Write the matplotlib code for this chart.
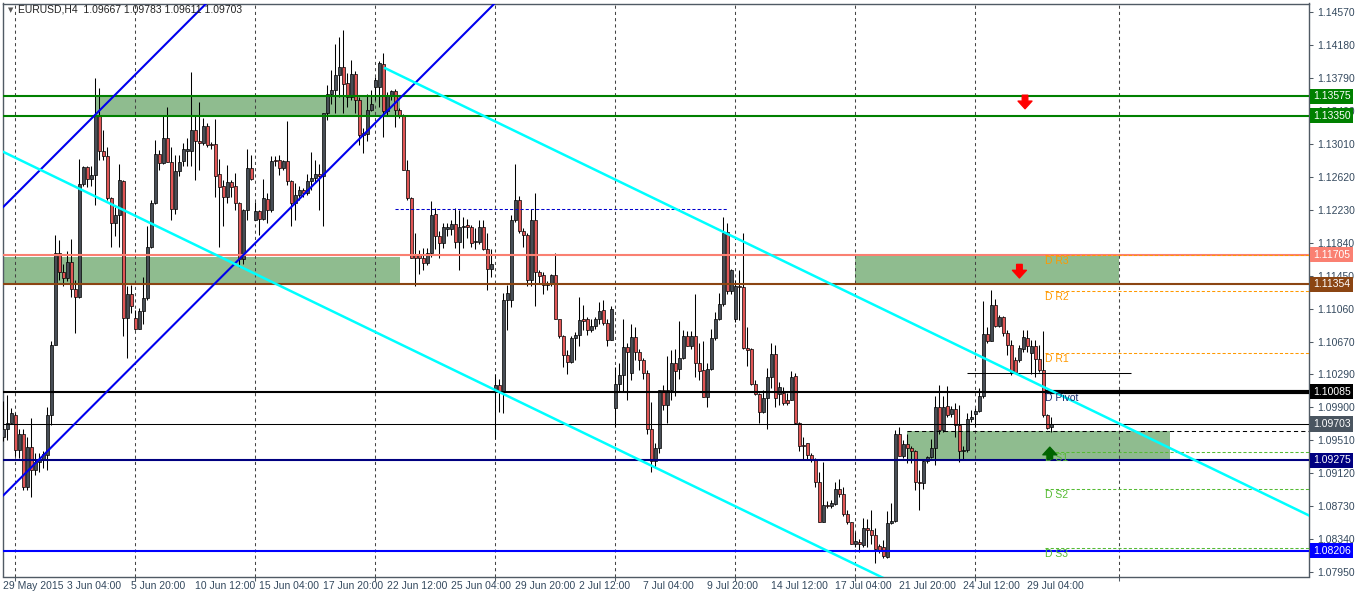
import numpy as np
import matplotlib
matplotlib.use("Agg")
import matplotlib.pyplot as plt
from matplotlib.patches import Rectangle

plt.rcParams['font.family'] = ['Liberation Sans', 'DejaVu Sans']

# EURUSD H4 candles, 29 May 2015 12:00 .. 30 Jul 2015 04:00
opens = [
    1.0955, 1.0965, 1.0972, 1.0981, 1.0940, 1.0959, 1.0896, 1.0943, 1.0916, 1.0926,
    1.0928, 1.0934, 1.0981, 1.1064, 1.1173, 1.1150, 1.1143, 1.1162, 1.1130, 1.1120,
    1.1254, 1.1274, 1.1260, 1.1265, 1.1336, 1.1293, 1.1287, 1.1237, 1.1208, 1.1217,
    1.1258, 1.1096, 1.1124, 1.1096, 1.1083, 1.1104, 1.1119, 1.1180, 1.1231, 1.1290,
    1.1279, 1.1309, 1.1280, 1.1225, 1.1269, 1.1281, 1.1293, 1.1293, 1.1318, 1.1305,
    1.1302, 1.1323, 1.1301, 1.1301, 1.1266, 1.1252, 1.1239, 1.1256, 1.1252, 1.1231,
    1.1165, 1.1223, 1.1273, 1.1212, 1.1222, 1.1213, 1.1236, 1.1223, 1.1283, 1.1282,
    1.1273, 1.1281, 1.1257, 1.1231, 1.1241, 1.1247, 1.1243, 1.1257, 1.1261, 1.1266,
    1.1263, 1.1338, 1.1361, 1.1365, 1.1383, 1.1392, 1.1373, 1.1357, 1.1384, 1.1353,
    1.1314, 1.1313, 1.1341, 1.1369, 1.1369, 1.1396, 1.1340, 1.1358, 1.1364, 1.1341,
    1.1336, 1.1271, 1.1237, 1.1171, 1.1171, 1.1167, 1.1161, 1.1172, 1.1218, 1.1192,
    1.1184, 1.1201, 1.1201, 1.1207, 1.1186, 1.1203, 1.1205, 1.1203, 1.1185, 1.1186,
    1.1203, 1.1177, 1.1154, 1.1011, 1.1016, 1.1009, 1.1117, 1.1117, 1.1212, 1.1235,
    1.1199, 1.1194, 1.1140, 1.1212, 1.1150, 1.1146, 1.1135, 1.1137, 1.1146, 1.1094,
    1.1074, 1.1052, 1.1044, 1.1072, 1.1075, 1.1094, 1.1094, 1.1082, 1.1086, 1.1094,
    1.1105, 1.1090, 1.1070, 1.0989, 1.1018, 1.1028, 1.1061, 1.1031, 1.1073, 1.1056,
    1.1046, 1.1031, 1.0965, 1.0927, 1.0942, 1.1011, 1.0993, 1.1010, 1.1042, 1.1035,
    1.1048, 1.1074, 1.1063, 1.1074, 1.1042, 1.1034, 1.1002, 1.1035, 1.1072, 1.1095,
    1.1112, 1.1197, 1.1127, 1.1095, 1.1133, 1.1132, 1.1060, 1.1059, 1.1018, 1.1006,
    1.0985, 1.1001, 1.1026, 1.1053, 1.1006, 1.1007, 1.0999, 1.0999, 1.1027, 1.0971,
    1.0946, 1.0948, 1.0934, 1.0929, 1.0902, 1.0855, 1.0875, 1.0873, 1.0876, 1.0893,
    1.0888, 1.0864, 1.0854, 1.0829, 1.0831, 1.0827, 1.0847, 1.0845, 1.0839, 1.0826,
    1.0825, 1.0813, 1.0853, 1.0856, 1.0959, 1.0933, 1.0947, 1.0942, 1.0939, 1.0902,
    1.0901, 1.0927, 1.0931, 1.0942, 1.0991, 1.0963, 1.0992, 1.0982, 1.0988, 1.0969,
    1.0938, 1.0940, 1.0976, 1.0982, 1.0986, 1.1003, 1.1077, 1.1069, 1.1111, 1.1086,
    1.1097, 1.1078, 1.1064, 1.1046, 1.1046, 1.1059, 1.1072, 1.1054, 1.1063, 1.1047,
    1.1034, 1.0981, 1.09667,
]
highs = [
    1.0997, 1.1005, 1.0989, 1.0983, 1.0964, 1.0964, 1.0955, 1.0977, 1.0936, 1.0936,
    1.0938, 1.0991, 1.1068, 1.1194, 1.1188, 1.1160, 1.1175, 1.1189, 1.1141, 1.1284,
    1.1275, 1.1275, 1.1275, 1.1379, 1.1367, 1.1318, 1.1298, 1.1239, 1.1227, 1.1278,
    1.1259, 1.1133, 1.1135, 1.1105, 1.1107, 1.1144, 1.1204, 1.1235, 1.1306, 1.1294,
    1.1336, 1.1345, 1.1298, 1.1288, 1.1288, 1.1302, 1.1308, 1.1386, 1.1334, 1.1351,
    1.1332, 1.1326, 1.1304, 1.1331, 1.1284, 1.1259, 1.1276, 1.1259, 1.1267, 1.1233,
    1.1224, 1.1296, 1.1288, 1.1233, 1.1223, 1.1260, 1.1243, 1.1287, 1.1287, 1.1288,
    1.1283, 1.1329, 1.1259, 1.1255, 1.1252, 1.1249, 1.1266, 1.1292, 1.1283, 1.1278,
    1.1338, 1.1371, 1.1389, 1.1420, 1.1428, 1.1436, 1.1385, 1.1401, 1.1388, 1.1357,
    1.1320, 1.1360, 1.1365, 1.1381, 1.1399, 1.1409, 1.1363, 1.1365, 1.1366, 1.1344,
    1.1337, 1.1282, 1.1239, 1.1196, 1.1176, 1.1178, 1.1178, 1.1234, 1.1226, 1.1198,
    1.1208, 1.1208, 1.1211, 1.1226, 1.1223, 1.1215, 1.1213, 1.1206, 1.1202, 1.1211,
    1.1211, 1.1196, 1.1177, 1.1030, 1.1024, 1.1125, 1.1135, 1.1217, 1.1278, 1.1240,
    1.1202, 1.1196, 1.1224, 1.1243, 1.1152, 1.1150, 1.1139, 1.1148, 1.1172, 1.1095,
    1.1075, 1.1058, 1.1074, 1.1079, 1.1121, 1.1111, 1.1097, 1.1095, 1.1097, 1.1115,
    1.1117, 1.1095, 1.1110, 1.1038, 1.1042, 1.1094, 1.1066, 1.1089, 1.1085, 1.1059,
    1.1048, 1.1034, 1.0996, 1.0948, 1.1011, 1.1016, 1.1051, 1.1058, 1.1059, 1.1092,
    1.1081, 1.1080, 1.1080, 1.1124, 1.1066, 1.1068, 1.1043, 1.1083, 1.1103, 1.1125,
    1.1215, 1.1208, 1.1154, 1.1141, 1.1152, 1.1196, 1.1085, 1.1060, 1.1022, 1.1007,
    1.1011, 1.1036, 1.1066, 1.1064, 1.1020, 1.1014, 1.1007, 1.1033, 1.1031, 1.0973,
    1.0955, 1.0948, 1.0936, 1.0930, 1.0914, 1.0926, 1.0879, 1.0881, 1.0902, 1.0905,
    1.0896, 1.0869, 1.0855, 1.0843, 1.0835, 1.0859, 1.0858, 1.0869, 1.0847, 1.0829,
    1.0833, 1.0867, 1.0877, 1.0963, 1.0967, 1.0951, 1.0959, 1.0944, 1.0940, 1.0916,
    1.0929, 1.0933, 1.0953, 1.1004, 1.1017, 1.1004, 1.1015, 1.0992, 1.0995, 1.0993,
    1.0944, 1.0983, 1.0987, 1.0989, 1.1013, 1.1116, 1.1085, 1.1129, 1.1118, 1.1099,
    1.1098, 1.1082, 1.1070, 1.1050, 1.1064, 1.1082, 1.1082, 1.1070, 1.1070, 1.1064,
    1.1080, 1.0982, 1.09783,
]
lows = [
    1.0950, 1.0951, 1.0971, 1.0932, 1.0930, 1.0892, 1.0892, 1.0884, 1.0910, 1.0914,
    1.0918, 1.0916, 1.0969, 1.1064, 1.1141, 1.1133, 1.1139, 1.1121, 1.1078, 1.1119,
    1.1252, 1.1251, 1.1252, 1.1229, 1.1282, 1.1282, 1.1235, 1.1180, 1.1192, 1.1180,
    1.1074, 1.1048, 1.1101, 1.1081, 1.1083, 1.1089, 1.1117, 1.1178, 1.1230, 1.1271,
    1.1278, 1.1280, 1.1212, 1.1219, 1.1263, 1.1275, 1.1275, 1.1275, 1.1259, 1.1271,
    1.1300, 1.1298, 1.1296, 1.1239, 1.1180, 1.1204, 1.1231, 1.1239, 1.1223, 1.1156,
    1.1160, 1.1212, 1.1259, 1.1212, 1.1194, 1.1212, 1.1208, 1.1221, 1.1275, 1.1265,
    1.1271, 1.1253, 1.1204, 1.1212, 1.1235, 1.1239, 1.1241, 1.1247, 1.1255, 1.1223,
    1.1204, 1.1330, 1.1349, 1.1338, 1.1357, 1.1338, 1.1345, 1.1353, 1.1338, 1.1300,
    1.1291, 1.1305, 1.1340, 1.1353, 1.1345, 1.1310, 1.1334, 1.1353, 1.1321, 1.1332,
    1.1271, 1.1235, 1.1166, 1.1133, 1.1148, 1.1152, 1.1158, 1.1168, 1.1177, 1.1167,
    1.1178, 1.1192, 1.1194, 1.1178, 1.1152, 1.1178, 1.1190, 1.1180, 1.1177, 1.1183,
    1.1176, 1.1129, 1.1144, 1.0953, 1.0985, 1.0983, 1.1081, 1.1109, 1.1209, 1.1196,
    1.1180, 1.1133, 1.1133, 1.1110, 1.1137, 1.1124, 1.1129, 1.1133, 1.1094, 1.1072,
    1.1038, 1.1030, 1.1042, 1.1046, 1.1062, 1.1081, 1.1075, 1.1079, 1.1083, 1.1089,
    1.1087, 1.1063, 1.1070, 1.0967, 1.1009, 1.1009, 1.0999, 1.1022, 1.1046, 1.1034,
    1.1023, 1.0959, 1.0914, 1.0918, 1.0936, 1.0987, 1.0972, 1.0999, 1.1003, 1.1023,
    1.1047, 1.1062, 1.1059, 1.1026, 1.1022, 1.1002, 1.0990, 1.1034, 1.1070, 1.1093,
    1.1110, 1.1124, 1.1124, 1.1091, 1.1093, 1.1059, 1.1039, 1.1016, 1.1005, 1.0972,
    1.0983, 1.0964, 1.1013, 1.0991, 1.0993, 1.0993, 1.0993, 1.0999, 1.0970, 1.0939,
    1.0928, 1.0928, 1.0926, 1.0896, 1.0854, 1.0854, 1.0871, 1.0871, 1.0875, 1.0884,
    1.0862, 1.0852, 1.0829, 1.0825, 1.0819, 1.0825, 1.0825, 1.0829, 1.0806, 1.0818,
    1.0812, 1.0812, 1.0852, 1.0855, 1.0932, 1.0930, 1.0924, 1.0924, 1.0892, 1.0869,
    1.0894, 1.0924, 1.0930, 1.0922, 1.0959, 1.0961, 1.0979, 1.0979, 1.0955, 1.0925,
    1.0929, 1.0937, 1.0973, 1.0967, 1.0985, 1.1001, 1.1066, 1.1068, 1.1085, 1.1085,
    1.1074, 1.1052, 1.1028, 1.1031, 1.1044, 1.1056, 1.1056, 1.1030, 1.1026, 1.1032,
    1.0979, 1.0965, 1.09611,
]
closes = [
    1.0965, 1.0972, 1.0983, 1.0940, 1.0959, 1.0896, 1.0943, 1.0916, 1.0925, 1.0929,
    1.0935, 1.0981, 1.1064, 1.1173, 1.1150, 1.1143, 1.1162, 1.1130, 1.1120, 1.1254,
    1.1274, 1.1260, 1.1265, 1.1336, 1.1293, 1.1287, 1.1237, 1.1208, 1.1217, 1.1259,
    1.1096, 1.1124, 1.1110, 1.1083, 1.1104, 1.1119, 1.1180, 1.1231, 1.1290, 1.1279,
    1.1309, 1.1280, 1.1225, 1.1269, 1.1280, 1.1296, 1.1296, 1.1318, 1.1305, 1.1302,
    1.1323, 1.1300, 1.1300, 1.1264, 1.1251, 1.1239, 1.1256, 1.1251, 1.1231, 1.1165,
    1.1223, 1.1273, 1.1260, 1.1222, 1.1213, 1.1237, 1.1223, 1.1281, 1.1281, 1.1273,
    1.1281, 1.1257, 1.1231, 1.1241, 1.1247, 1.1243, 1.1258, 1.1261, 1.1266, 1.1263,
    1.1338, 1.1361, 1.1365, 1.1383, 1.1392, 1.1372, 1.1357, 1.1384, 1.1353, 1.1312,
    1.1312, 1.1342, 1.1349, 1.1377, 1.1397, 1.1340, 1.1358, 1.1364, 1.1341, 1.1336,
    1.1271, 1.1237, 1.1167, 1.1167, 1.1166, 1.1161, 1.1172, 1.1217, 1.1192, 1.1184,
    1.1203, 1.1203, 1.1207, 1.1186, 1.1203, 1.1204, 1.1203, 1.1184, 1.1187, 1.1203,
    1.1177, 1.1154, 1.1160, 1.1016, 1.1009, 1.1117, 1.1125, 1.1212, 1.1235, 1.1199,
    1.1194, 1.1140, 1.1212, 1.1150, 1.1145, 1.1135, 1.1137, 1.1146, 1.1095, 1.1074,
    1.1052, 1.1044, 1.1072, 1.1075, 1.1093, 1.1092, 1.1082, 1.1086, 1.1094, 1.1104,
    1.1090, 1.1070, 1.1106, 1.1018, 1.1028, 1.1061, 1.1055, 1.1073, 1.1055, 1.1046,
    1.1031, 1.0965, 1.0927, 1.0942, 1.1011, 1.0993, 1.1010, 1.1042, 1.1033, 1.1048,
    1.1074, 1.1063, 1.1074, 1.1042, 1.1033, 1.1002, 1.1035, 1.1072, 1.1095, 1.1112,
    1.1196, 1.1127, 1.1152, 1.1133, 1.1132, 1.1060, 1.1058, 1.1018, 1.1006, 1.0985,
    1.1001, 1.1026, 1.1053, 1.1001, 1.1014, 1.0995, 1.0995, 1.1026, 1.0971, 1.0944,
    1.0944, 1.0934, 1.0929, 1.0902, 1.0855, 1.0875, 1.0873, 1.0877, 1.0893, 1.0888,
    1.0864, 1.0854, 1.0829, 1.0832, 1.0829, 1.0847, 1.0845, 1.0839, 1.0823, 1.0822,
    1.0814, 1.0853, 1.0856, 1.0959, 1.0933, 1.0947, 1.0942, 1.0939, 1.0902, 1.0901,
    1.0927, 1.0931, 1.0942, 1.0991, 1.0963, 1.0991, 1.0981, 1.0988, 1.0969, 1.0938,
    1.0940, 1.0976, 1.0979, 1.0986, 1.1004, 1.1077, 1.1069, 1.1111, 1.1086, 1.1097,
    1.1078, 1.1064, 1.1032, 1.1032, 1.1060, 1.1073, 1.1062, 1.1063, 1.1047, 1.1034,
    1.0981, 1.0966, 1.09703,
]

time_labels = ["29 May 2015", "3 Jun 04:00", "5 Jun 20:00", "10 Jun 12:00", "15 Jun 04:00",
               "17 Jun 20:00", "22 Jun 12:00", "25 Jun 04:00", "29 Jun 20:00", "2 Jul 12:00",
               "7 Jul 04:00", "9 Jul 20:00", "14 Jul 12:00", "17 Jul 04:00", "21 Jul 20:00",
               "24 Jul 12:00", "29 Jul 04:00"]
price_ticks = [1.14570, 1.14180, 1.13790, 1.13400, 1.13010, 1.12620, 1.12230, 1.11840,
               1.11450, 1.11060, 1.10670, 1.10290, 1.09900, 1.09510, 1.09120, 1.08730,
               1.08340, 1.07950]

# horizontal levels with their price-scale tags
levels = [1.13575, 1.13350, 1.11705, 1.11354, 1.10085, 1.09703, 1.09275, 1.08206]
level_colors = ['#008000', '#008000', '#FA8072', '#8B4513', '#000000', '#4A5560', '#000080', '#0000FF']
level_widths = [1.5, 1.5, 1.5, 1.5, 1.5, 0.75, 1.5, 1.5]

# daily pivot levels
pivot_names = ["D R3", "D R2", "D R1", "D Pivot", "D S1", "D S2", "D S3"]
pivot_values = [1.1170, 1.1127, 1.1054, 1.10085, 1.0937, 1.0893, 1.0824]
pivot_colors = ['#FF9900', '#FF9900', '#FF9900', '#1C2E6E', '#55BB33', '#55BB33', '#55BB33']

W, H = 1362, 594
fig = plt.figure(figsize=(W / 100, H / 100), dpi=100)
ax = fig.add_axes([2.5 / W, 17.5 / H, 1306.5 / W, 573 / H])
ax.set_xlim(-0.25, 326.4)
ax.set_ylim(1.07901, 1.14674)

x = np.arange(len(closes))
o = np.array(opens)
c = np.array(closes)
up = c >= o
body = np.maximum(np.abs(c - o), 0.00006)

# zones
zone_kw = dict(facecolor='#8FBC8F', edgecolor='none', zorder=1)
ax.add_patch(Rectangle((22.9, 1.13350), 99.1 - 22.9, 1.13575 - 1.13350, **zone_kw))
ax.add_patch(Rectangle((-0.25, 1.11354), 99.1 + 0.25, 1.1168 - 1.11354, **zone_kw))
ax.add_patch(Rectangle((212.9, 1.11354), 278.9 - 212.9, 1.1170 - 1.11354, **zone_kw))
ax.add_patch(Rectangle((225.9, 1.09275), 291.6 - 225.9, 1.0962 - 1.09275, **zone_kw))

# period grid
grid_bars = list(range(3, 250, 30)) + [279]
for g in grid_bars:
    ax.axvline(g, color='#444444', lw=0.75, ls=(0, (3, 3)), zorder=1.5)

# candles
ax.vlines(x, lows, highs, color='black', lw=0.75, zorder=3)
ax.bar(x[up], body[up], bottom=o[up], width=0.72, color='#474D55',
       edgecolor='black', linewidth=0.5, zorder=4)
ax.bar(x[~up], body[~up], bottom=c[~up], width=0.72, color='#E05555',
       edgecolor='black', linewidth=0.5, zorder=4)

# horizontal levels
for lv, col, lw in zip(levels, level_colors, level_widths):
    lc = 'black' if lv == 1.09703 else col
    ax.axhline(lv, color=lc, lw=lw, zorder=5)

# short helper lines
ax.hlines(1.1224, 97.9, 181.1, colors='#0000CD', lw=0.75, linestyles=(0, (3, 2)), zorder=5)
ax.hlines(1.1031, 240.9, 281.9, colors='black', lw=0.75, zorder=5)
ax.hlines(1.0962, 225.9, 326.4, colors='black', lw=0.75, linestyles=(0, (4, 3)), zorder=5)

# pivot lines and labels
for name, pv, col in zip(pivot_names, pivot_values, pivot_colors):
    if name == "D Pivot":
        ax.hlines(pv, 260.4, 326.4, colors='black', lw=3, zorder=5)
    else:
        ax.hlines(pv, 260.4, 326.4, colors=col, lw=0.75, linestyles=(0, (3, 2)), zorder=5)
    ax.text(260.4, pv - 0.0007, name, color=col, fontsize=7.5, va='center', ha='left', zorder=6)

# trend channels
ax.plot([-0.05, 122.9], [1.0886, 1.1468], color='#0000EE', lw=1.5, zorder=5)
ax.plot([-0.05, 50.6], [1.1227, 1.1467], color='#0000EE', lw=1.5, zorder=5)
slope = -0.0002289
ax.plot([95.4, 326.4], [1.1391, 1.1391 + slope * (326.4 - 95.4)], color='#00FFFF', lw=1.8, zorder=5)
ax.plot([-0.05, 240], [1.1292, 1.1292 + slope * 240.05], color='#00FFFF', lw=1.8, zorder=5)

# arrows
arr_down = dict(arrowstyle='simple,head_length=0.55,head_width=1.0,tail_width=0.4',
                color='#FF0000', mutation_scale=10, shrinkA=0, shrinkB=0)
ax.annotate('', xy=(255.4, 1.1343), xytext=(255.4, 1.1359), arrowprops=arr_down, zorder=7)
ax.annotate('', xy=(254.0, 1.1143), xytext=(254.0, 1.1159), arrowprops=arr_down, zorder=7)
arr_up = dict(arrowstyle='simple,head_length=0.55,head_width=1.0,tail_width=0.4',
              color='#006400', mutation_scale=10, shrinkA=0, shrinkB=0)
ax.annotate('', xy=(261.6, 1.0943), xytext=(261.6, 1.0929), arrowprops=arr_up, zorder=7)

# axes styling
frame = '#505A64'
for s in ax.spines.values():
    s.set_color(frame)
    s.set_linewidth(1)
ax.yaxis.tick_right()
ax.set_yticks(price_ticks)
ax.set_yticklabels([f"{p:.5f}" for p in price_ticks])
ax.tick_params(axis='y', length=3, width=0.75, color=frame, labelcolor='#34495E',
               labelsize=7.5, pad=3)
ax.set_xticks(range(0, 257, 16))
ax.set_xticklabels(time_labels, ha='left')
ax.tick_params(axis='x', length=0, labelcolor='#34495E', labelsize=7.5, pad=3)
ax.set_xticks(grid_bars, minor=True)
ax.tick_params(axis='x', which='minor', length=3, width=0.75, color=frame)

# price tags on the right scale
tag_tr = ax.get_yaxis_transform()
for lv, col in zip(levels, level_colors):
    ax.text(1.0 + 4 / 1306.5, lv, f"{lv:.5f}", transform=tag_tr, color='white',
            fontsize=7.5, va='center', ha='left', clip_on=False, zorder=10,
            bbox=dict(boxstyle='square,pad=0.25', fc=col, ec='none'))

fig.text(8 / W, 1 - 10 / H, "\u25BC", fontsize=5, color='#555555', va='center',
         family='DejaVu Sans')
fig.text(18 / W, 1 - 10 / H, "EURUSD,H4  1.09667 1.09783 1.09611 1.09703",
         fontsize=7.5, color='#222222', va='center')

fig.savefig("out.png", dpi=100)
